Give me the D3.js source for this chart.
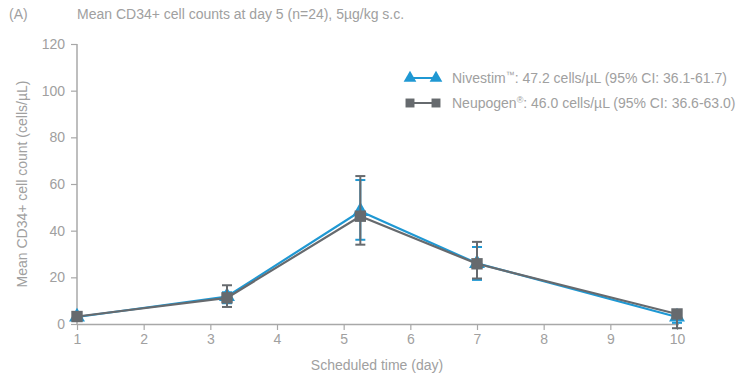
<!DOCTYPE html>
<html>
<head>
<meta charset="utf-8">
<script src="https://cdn.jsdelivr.net/npm/d3@7"></script>
<style>
  body { margin: 0; background: #fff; }
  text { font-family: "Liberation Sans", Arial, sans-serif; fill: #a0a0a0; }
</style>
</head>
<body>
<div id="app"></div>
<script>
const W = 741, H = 376;
const margin = { top: 44, right: 64, bottom: 52, left: 77 };

// data
const days = [1, 3.25, 5.25, 7, 10];
const nivestim = [3.0, 11.8, 48.3, 26.0, 3.0];
const nivestimLow = [2.0, 8.9, 36.1, 18.9, 0.5];
const nivestimHigh = [4.0, 13.6, 61.7, 33.0, 5.0];
const neupogen = [3.2, 11.2, 46.2, 25.8, 4.3];
const neupogenLow = [2.2, 7.3, 34.0, 19.5, -1.8];
const neupogenHigh = [4.2, 16.6, 63.4, 35.2, 6.0];
const xTicks = [1, 2, 3, 4, 5, 6, 7, 8, 9, 10];
const yTicks = [0, 20, 40, 60, 80, 100, 120];

const blue = "#1f98d3", gray = "#666a6e";

const svg = d3.select("#app").append("svg")
  .attr("width", W).attr("height", H);

const x = d3.scaleLinear().domain([1, 10]).range([margin.left, 677]);
const y = d3.scaleLinear().domain([0, 120]).range([324, 44]);

/* titles */
svg.append("text").attr("x", 9).attr("y", 19).attr("font-size", 14).text("(A)");
svg.append("text").attr("x", 77).attr("y", 19).attr("font-size", 14)
  .text("Mean CD34+ cell counts at day 5 (n=24), 5µg/kg s.c.");

/* axes */
const axisColor = "#a8a8a8";
const gx = svg.append("g").attr("transform", `translate(0,${y(0)})`)
  .call(d3.axisBottom(x).tickValues(xTicks).tickSize(6).tickPadding(4).tickFormat(d3.format("d")));
const gy = svg.append("g").attr("transform", `translate(${margin.left},0)`)
  .call(d3.axisLeft(y).tickValues(yTicks).tickSize(6).tickPadding(6));
[gx, gy].forEach(g => {
  g.select(".domain").attr("stroke", axisColor).attr("stroke-width", 1.5);
  g.selectAll(".tick line").attr("stroke", axisColor).attr("stroke-width", 1.2);
  g.selectAll(".tick text").attr("fill", "#a0a0a0").attr("font-size", 14)
    .attr("font-family", "Liberation Sans, Arial, sans-serif");
});
gx.select(".domain").attr("d", `M${margin.left},0.5H${x(10) + 2}`);
gy.select(".domain").attr("d", `M0,${y(120)}V${y(0)}`);

svg.append("text").attr("x", x(5.5)).attr("y", 370).attr("text-anchor", "middle")
  .attr("font-size", 14).text("Scheduled time (day)");
svg.append("text").attr("transform", `translate(27,${y(60)}) rotate(-90)`)
  .attr("text-anchor", "middle").attr("font-size", 14)
  .text("Mean CD34+ cell count (cells/µL)");

/* series */
function drawSeries(vals, lo, hi, color, marker) {
  const g = svg.append("g");
  const pts = days.map((d, i) => ({ d, v: vals[i], lo: lo[i], hi: hi[i] }));
  g.append("path").datum(pts)
    .attr("fill", "none").attr("stroke", color).attr("stroke-width", 2.2)
    .attr("d", d3.line().x(p => x(p.d)).y(p => y(p.v)));
  const eb = g.selectAll("g.eb").data(pts).enter().append("g");
  eb.append("line").attr("x1", p => x(p.d)).attr("x2", p => x(p.d))
    .attr("y1", p => y(p.lo)).attr("y2", p => y(p.hi))
    .attr("stroke", color).attr("stroke-width", 2);
  [p => p.lo, p => p.hi].forEach(f => {
    eb.append("line").attr("x1", p => x(p.d) - 5).attr("x2", p => x(p.d) + 5)
      .attr("y1", p => y(f(p))).attr("y2", p => y(f(p)))
      .attr("stroke", color).attr("stroke-width", 2);
  });
  g.selectAll("path.m").data(pts).enter().append("path")
    .attr("transform", p => `translate(${x(p.d)},${y(p.v)})`)
    .attr("d", d3.symbol().type(marker).size(marker === d3.symbolSquare ? 130 : 110))
    .attr("fill", color);
}
drawSeries(nivestim, nivestimLow, nivestimHigh, blue, d3.symbolTriangle);
drawSeries(neupogen, neupogenLow, neupogenHigh, gray, d3.symbolSquare);

/* legend */
const legend = [
  { name: "Nivestim", mark: "™", rest: ": 47.2 cells/µL (95% CI: 36.1-61.7)", color: blue, sym: d3.symbolTriangle },
  { name: "Neupogen", mark: "®", rest: ": 46.0 cells/µL (95% CI: 36.6-63.0)", color: gray, sym: d3.symbolSquare }
];
const lg = svg.selectAll("g.lg").data(legend).enter().append("g")
  .attr("transform", (d, i) => `translate(0,${78 + i * 25})`);
lg.append("line").attr("x1", 410).attr("x2", 436).attr("stroke", d => d.color).attr("stroke-width", 2);
[410, 436].forEach(cx => {
  lg.append("path").attr("transform", `translate(${cx},0)`)
    .attr("d", d => d3.symbol().type(d.sym).size(d.sym === d3.symbolSquare ? 80 : 70)())
    .attr("fill", d => d.color);
});
const lt = lg.append("text").attr("x", 452).attr("y", 5).attr("font-size", 14);
lt.append("tspan").text(d => d.name);
lt.append("tspan").attr("font-size", 9).attr("dy", -5).text(d => d.mark);
lt.append("tspan").attr("dy", 5).text(d => d.rest);
</script>
</body>
</html>
